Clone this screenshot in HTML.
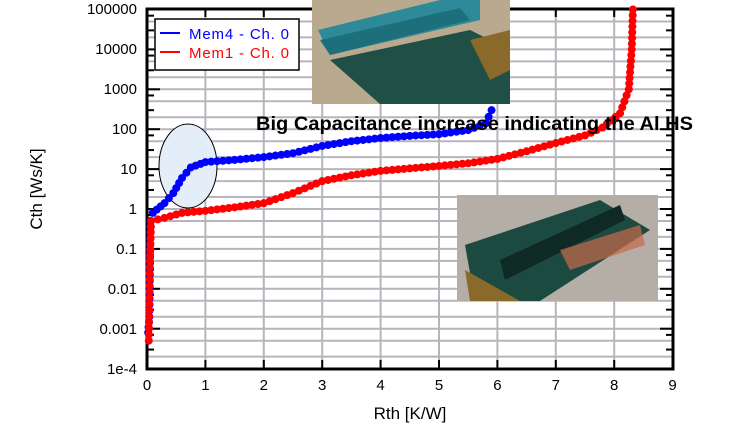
<!DOCTYPE html>
<html><head><meta charset="utf-8"><style>
html,body{margin:0;padding:0;background:#fff;width:730px;height:433px;overflow:hidden}
svg text{font-family:"Liberation Sans",sans-serif}
</style></head><body>
<svg id="s" width="730" height="433" xmlns="http://www.w3.org/2000/svg">
<rect width="730" height="433" fill="#fff"/>
<g id="grid" stroke="#b8b4bc" stroke-width="2"></g>
<g id="ticks" stroke="#000" stroke-width="2"></g>
<rect x="147" y="9" width="526" height="360" fill="none" stroke="#000" stroke-width="3"/>
<g font-size="15" fill="#000" text-anchor="end">
<text x="137" y="14">100000</text><text x="137" y="54">10000</text><text x="137" y="94">1000</text>
<text x="137" y="134">100</text><text x="137" y="174">10</text><text x="137" y="214">1</text>
<text x="137" y="254">0.1</text><text x="137" y="294">0.01</text><text x="137" y="334">0.001</text>
<text x="137" y="374">1e-4</text></g>
<g font-size="15" fill="#000" text-anchor="middle" id="xl"></g>
<text x="410" y="419" font-size="17" text-anchor="middle">Rth  [K/W]</text>
<text transform="translate(42,189) rotate(-90)" font-size="17" text-anchor="middle">Cth  [Ws/K]</text>
<ellipse cx="188" cy="166" rx="29" ry="42" fill="#e4eef8" stroke="#000" stroke-width="1"/>
<g id="curves"></g>
<rect x="155" y="19" width="144" height="51" fill="#fff" stroke="#000" stroke-width="1.5"/>
<line x1="160" y1="33" x2="180" y2="33" stroke="#0000ff" stroke-width="2"/>
<line x1="160" y1="52" x2="180" y2="52" stroke="#ff0000" stroke-width="2"/>
<text x="189" y="39" font-size="15" fill="#0000ff" textLength="100">Mem4 - Ch. 0</text>
<text x="189" y="58" font-size="15" fill="#ff0000" textLength="100">Mem1 - Ch. 0</text>
<g>
<rect x="312" y="0" width="198" height="104" fill="#b9a98e"/>
<polygon points="330,60 470,30 510,50 510,104 380,104" fill="#1f4f45"/>
<polygon points="318,30 440,0 480,0 480,20 330,55" fill="#2e8a98"/>
<polygon points="320,40 460,8 470,20 330,55" fill="#1e6f7c"/>
<polygon points="470,40 510,30 510,70 490,80" fill="#8a6a2a"/>
</g>
<text x="256" y="130" font-size="19" font-weight="bold" fill="#000" textLength="437" lengthAdjust="spacingAndGlyphs">Big Capacitance increase indicating the Al HS</text>
<g>
<rect x="457" y="195" width="201" height="106" fill="#b5aea6"/>
<polygon points="465,245 600,200 650,230 540,301 475,301" fill="#1d4a40"/>
<polygon points="500,260 620,205 625,220 505,280" fill="#0f2a24"/>
<polygon points="465,270 520,301 470,301" fill="#8a6a2a"/>
<polygon points="560,250 640,225 645,245 570,270" fill="#c86a4a" opacity="0.7"/>
</g>
</svg>
<script>
const S='http://www.w3.org/2000/svg';
const X=r=>147+r*58.4, Y=c=>209-Math.log10(c)*39.9;
function el(p,t,a){const e=document.createElementNS(S,t);for(const k in a)e.setAttribute(k,a[k]);p.appendChild(e);return e;}
const g=document.getElementById('grid'),tk=document.getElementById('ticks'),xl=document.getElementById('xl');
for(let i=1;i<9;i++){el(g,'line',{x1:X(i),x2:X(i),y1:9,y2:369});el(tk,'line',{x1:X(i),x2:X(i),y1:360,y2:369});el(tk,'line',{x1:X(i),x2:X(i),y1:9,y2:17});}
for(let i=0;i<=9;i++){const t=el(xl,'text',{x:X(i),y:390});t.textContent=i;}
for(let d=-4;d<5;d++){for(const m of [1,2,5]){const y=209-(d+Math.log10(m))*39.9;if(y<11||y>367)continue;el(g,'line',{x1:147,x2:673,y1:y,y2:y});}
 const y=209-d*39.9;el(tk,'line',{x1:147,x2:160,y1:y,y2:y});el(tk,'line',{x1:660,x2:673,y1:y,y2:y});
 for(const m of [3,7]){const y2=209-(d+Math.log10(m))*39.9;if(y2>11&&y2<367){el(tk,'line',{x1:147,x2:154,y1:y2,y2:y2});el(tk,'line',{x1:666,x2:673,y1:y2,y2:y2});}}}
const cv=document.getElementById('curves');
function curve(pts,col,step){
 for(let i=0;i<pts.length-1;i++){const [r1,c1]=pts[i],[r2,c2]=pts[i+1];
  const x1=X(r1),y1=Y(c1),x2=X(r2),y2=Y(c2);const L=Math.hypot(x2-x1,y2-y1);const n=Math.max(1,Math.round(L/step));
  for(let k=0;k<n;k++){const t=k/n;el(cv,'circle',{cx:x1+(x2-x1)*t,cy:y1+(y2-y1)*t,r:4,fill:col});}}
 const [r,c]=pts[pts.length-1];el(cv,'circle',{cx:X(r),cy:Y(c),r:4,fill:col});
}
curve([[0.02,0.0008],[0.04,0.002],[0.06,0.5],[0.1,0.8],[0.3,1.4],[0.45,2.5],[0.6,6],[0.75,11],[1,15],[1.5,17],[2,20],[2.5,25],[3,38],[3.5,50],[4,60],[4.5,68],[5,75],[5.5,95],[5.8,140],[5.9,300]],'#0000ff',6);
curve([[0.03,0.0005],[0.05,0.05],[0.07,0.5],[0.3,0.6],[0.6,0.8],[1,0.9],[1.5,1.1],[2,1.4],[2.5,2.5],[3,5],[3.5,7],[4,9],[5,12],[5.5,14],[6,18],[6.5,28],[7,45],[7.5,70],[7.8,110],[8.1,250],[8.25,1000],[8.3,10000],[8.32,100000]],'#ff0000',6);
</script>
</body></html>
